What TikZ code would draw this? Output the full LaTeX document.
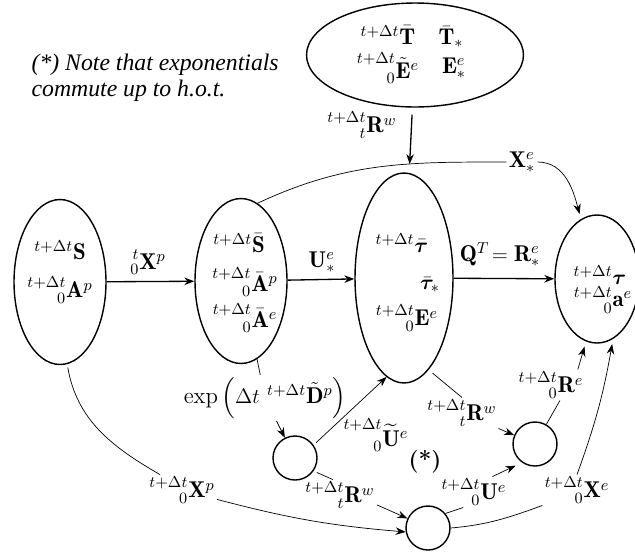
\documentclass[tikz,border=0pt]{standalone}
\usepackage{amsmath, amssymb, bm, mathtools}
\usepackage{fontspec}
\newfontfamily\notefont{Liberation Serif}
\usepackage{tikz}
\usetikzlibrary{shapes.geometric, arrows.meta, backgrounds}

\begin{document}
\begin{tikzpicture}[
    x=0.02cm, y=-0.02cm,
    >={Stealth[length=2mm]},
    line width=0.75pt,
    set/.style  ={draw, ellipse, fill=white, line width=0.8pt},
    ring/.style ={draw, circle, minimum size=0.88cm, line width=0.8pt},
    lbl/.style  ={inner sep=1pt, font=\fontsize{13}{16}\selectfont},
    note/.style ={font=\notefont\fontsize{13.5}{15}\selectfont\itshape, align=left, anchor=north west, inner sep=0pt},
]
\useasboundingbox (0,0) rectangle (635,552);

% configurations
\node[set, minimum width=4.34cm, minimum height=2.08cm] (T) at (415,55)  {};
\node[set, minimum width=1.84cm, minimum height=3.3cm]  (A) at (60,282)  {};
\node[set, minimum width=1.84cm, minimum height=3.3cm]  (B) at (241,281) {};
\node[set, minimum width=1.96cm, minimum height=4.2cm]  (C) at (404,278) {};
\node[set, minimum width=1.68cm, minimum height=2.56cm] (D) at (597,279) {};

\node[ring] (E) at (295,458) {};
\node[ring] (F) at (535,444) {};
\node[ring] (G) at (428,528) {};

% contents
\node[lbl] (T1) at (388,35)  {${}^{t+\Delta t}\bar{\mathbf{T}}$};
\node[lbl] (T2) at (451,37)  {$\bar{\mathbf{T}}_*$};
\node[lbl] (T3) at (388,68)  {$\prescript{t+\Delta t}{0}{\tilde{\mathbf{E}}}^e$};
\node[lbl] (T4) at (454,68)  {$\mathbf{E}^e_*$};

\node[lbl] (A1) at (60,250)  {${}^{t+\Delta t}\mathbf{S}$};
\node[lbl] (A2) at (60,290)  {$\prescript{t+\Delta t}{0}{\mathbf{A}}^p$};

\node[lbl] (B1) at (239,243) {${}^{t+\Delta t}\bar{\mathbf{S}}$};
\node[lbl] (B2) at (245,282) {$\prescript{t+\Delta t}{0}{\bar{\mathbf{A}}}^p$};
\node[lbl] (B3) at (245,318) {$\prescript{t+\Delta t}{0}{\bar{\mathbf{A}}}^e$};

\node[lbl] (C1) at (402,243) {${}^{t+\Delta t}\bar{\boldsymbol{\tau}}$};
\node[lbl] (C2) at (430,285) {$\bar{\boldsymbol{\tau}}_*$};
\node[lbl] (C3) at (407,318) {$\prescript{t+\Delta t}{0}{\mathbf{E}}^e$};

\node[lbl] (D1) at (600,275) {${}^{t+\Delta t}\boldsymbol{\tau}$};
\node[lbl] (D2) at (603,300) {$\prescript{t+\Delta t}{0}{\mathbf{a}}^e$};

\node[note] (note) at (31,53) {(*) Note that exponentials\\commute up to h.o.t.};

% labels
\node[lbl] (lX0p) at (148,262) {$\prescript{t}{0}{\mathbf{X}}^p$};
\node[lbl] (lUs)  at (322,262) {$\mathbf{U}^e_*$};
\node[lbl] (lQ)   at (500,255) {$\mathbf{Q}^T\!= \mathbf{R}^e_*$};
\node[lbl] (lRwT) at (362,125) {$\prescript{t+\Delta t}{t}{\mathbf{R}}^w$};
\node[lbl] (lXs)  at (522,162) {$\mathbf{X}^e_*$};
\node[lbl] (lexp) at (265,398) {$\exp\left(\Delta t\ {}^{t+\Delta t}\tilde{\mathbf{D}}^p\right)$};
\node[lbl] (lUt)  at (376,435) {$\prescript{t+\Delta t}{0}{\widetilde{\mathbf{U}}}^e$};
\node[lbl] (lRwC) at (462,413) {$\prescript{t+\Delta t}{t}{\mathbf{R}}^w$};
\node[lbl] (lRe)  at (551,385) {$\prescript{t+\Delta t}{0}{\mathbf{R}}^e$};
\node[lbl] (star) at (425,462) {\textbf{(*)}};
\node[lbl] (lRwE) at (340,495) {$\prescript{t+\Delta t}{t}{\mathbf{R}}^w$};
\node[lbl] (lUe)  at (474,492) {$\prescript{t+\Delta t}{0}{\mathbf{U}}^e$};
\node[lbl] (lXp)  at (182,490) {$\prescript{t+\Delta t}{0}{\mathbf{X}}^p$};
\node[lbl] (lXe)  at (577,490) {$\prescript{t+\Delta t}{0}{\mathbf{X}}^e$};

% maps
\draw[->] (A) -- (B);
\draw[->] (B) -- (C);
\draw[->] (C) -- (D);
\draw[->, shorten <=4pt, shorten >=5pt] (T) -- (C);

\begin{pgfonlayer}{background}
\draw (B.78) to[out=25, in=180] (lXs.west);
\end{pgfonlayer}
\draw[->, shorten >=3pt] (lXs.east) to[out=0, in=105] (D.105);

\draw[shorten <=2pt] (A.-85) to[out=-80, in=150] (lXp.145);
\draw[->] (lXp.-15) to[bend right=5] (G.190);

\draw (B) -- (lexp);
\draw[->] (lexp) -- (E);

\draw[->, shorten <=2pt] (E.35) -- (C.-100);

\draw[shorten <=3pt] (C.-75) -- (lRwC.north);
\draw[->] (lRwC) -- (F);

\draw (F.60) -- (lRe.-60);
\draw[->, shorten >=3pt] (lRe.30) -- (D.-100);

\draw[shorten <=2pt] (E.-35) -- (lRwE.115);
\draw[->] (lRwE.-15) -- (G.155);

\draw (G.40) -- (lUe.-125);
\draw[->, shorten >=4pt] (lUe.40) -- (F.-125);

\draw (G.east) to[out=5, in=-160] (lXe.south west);
\draw[->, shorten >=3pt] (lXe.north) to[out=70, in=-100] (D.-75);

\end{tikzpicture}
\end{document}
